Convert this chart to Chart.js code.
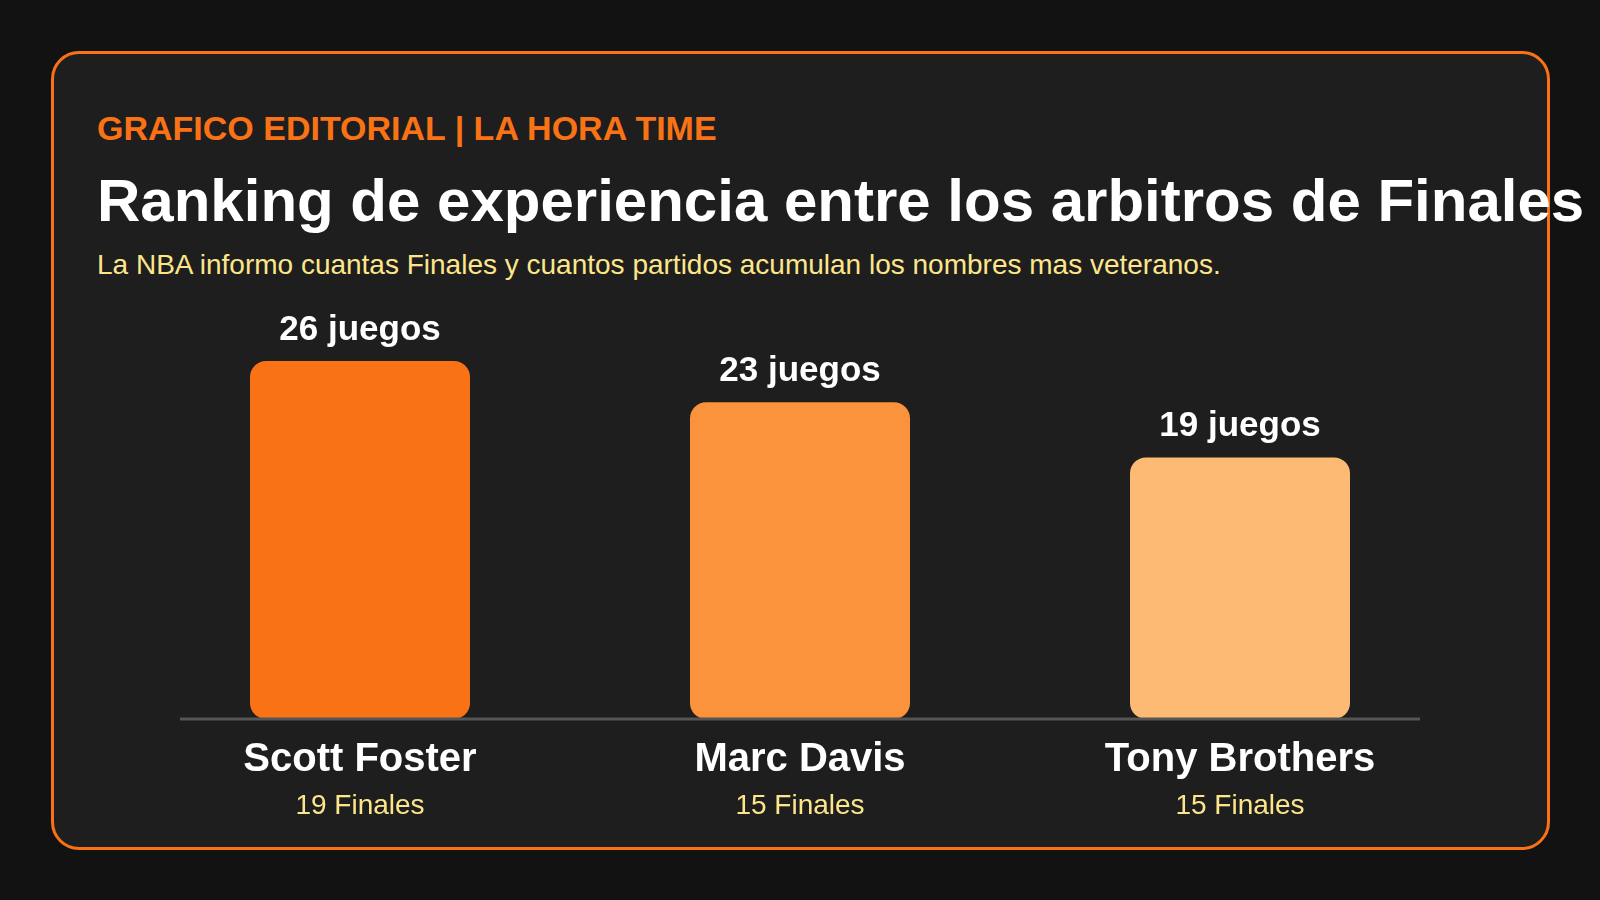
<!DOCTYPE html>
<html>
<head>
<meta charset="utf-8">
<script src="https://cdn.jsdelivr.net/npm/chart.js@4/dist/chart.umd.min.js"></script>
<style>
  html, body { margin:0; padding:0; width:1600px; height:900px; background:#121212; overflow:hidden; }
  body { font-family: "Liberation Sans", Arial, Helvetica, sans-serif; position:relative; }
  .card { position:absolute; left:51px; top:51px; width:1493px; height:793px; border:3px solid #f97316; border-radius:28px; background:#1e1e1e; }
  .t { position:absolute; left:97px; white-space:nowrap; }
  #kicker { top:111px; font-size:34px; line-height:34px; font-weight:bold; color:#f97316; }
  #title { top:171px; font-size:60px; line-height:60px; font-weight:bold; color:#ffffff; }
  #sub { top:251px; font-size:28px; line-height:28px; color:#fde68a; }
  #wrap { position:absolute; left:100px; top:290px; width:1400px; height:560px; }
</style>
</head>
<body>
<div class="card"></div>
<div class="t" id="kicker">GRAFICO EDITORIAL | LA HORA TIME</div>
<div class="t" id="title">Ranking de experiencia entre los arbitros de Finales</div>
<div class="t" id="sub">La NBA informo cuantas Finales y cuantos partidos acumulan los nombres mas veteranos.</div>
<div id="wrap"><canvas id="c" width="1400" height="560"></canvas></div>
<script>
const referees = ["Scott Foster", "Marc Davis", "Tony Brothers"];
const games = [26, 23, 19];
const finals = [19, 15, 15];
const finalsLabels = finals.map(f => f + " Finales");
const barColors = ["#f97316", "#fb923c", "#fdba74"];

const FONT = '"Liberation Sans", Arial, Helvetica, sans-serif';

const extras = {
  id: 'extras',
  afterDatasetsDraw(chart) {
    const ctx = chart.ctx;
    const a = chart.chartArea;
    const xs = chart.scales.x;
    ctx.save();
    ctx.strokeStyle = '#555555';
    ctx.lineWidth = 3;
    ctx.beginPath();
    ctx.moveTo(a.left + 40, a.bottom);
    ctx.lineTo(a.right - 40, a.bottom);
    ctx.stroke();
    const meta = chart.getDatasetMeta(0);
    ctx.fillStyle = '#ffffff';
    ctx.font = 'bold 35px ' + FONT;
    ctx.textAlign = 'center';
    ctx.textBaseline = 'alphabetic';
    meta.data.forEach((bar, i) => {
      ctx.fillText(games[i] + ' juegos', bar.x, bar.y - 21);
    });
    ctx.fillStyle = '#fde68a';
    ctx.font = '28px ' + FONT;
    finalsLabels.forEach((lab, i) => {
      ctx.fillText(lab, xs.getPixelForValue(i), a.bottom + 95);
    });
    ctx.restore();
  }
};

new Chart(document.getElementById('c'), {
  type: 'bar',
  data: {
    labels: referees,
    datasets: [{
      data: games,
      backgroundColor: barColors,
      borderRadius: 16,
      borderSkipped: false,
      categoryPercentage: 0.5,
      barPercentage: 1.0
    }]
  },
  options: {
    responsive: false,
    animation: false,
    layout: { padding: { left: 40, right: 40, top: 16, bottom: 49 } },
    plugins: { legend: { display: false }, tooltip: { enabled: false } },
    scales: {
      y: { display: false, min: 0, max: 30 },
      x: {
        position: 'bottom',
        grid: { display: false, drawTicks: false, tickLength: 0 },
        border: { display: false },
        ticks: { color: '#ffffff', padding: 17, font: { family: FONT, size: 40, weight: 'bold', lineHeight: 1.2 } }
      }
    }
  },
  plugins: [extras]
});
</script>
</body>
</html>
